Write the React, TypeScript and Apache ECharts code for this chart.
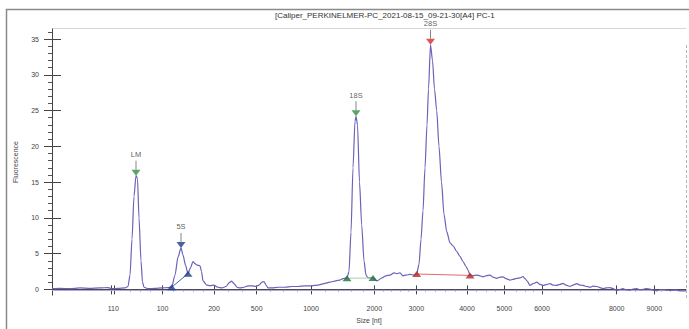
import React, { useEffect, useRef } from "react";
import * as echarts from "echarts";

// Migration position (arbitrary time units) and fluorescence
const traceTime = [
  20.0, 20.8, 21.8, 22.8, 23.8, 24.8, 25.6, 26.0, 26.6, 27.3, 27.6, 27.8, 28.0, 28.2, 28.4, 28.55, 28.7, 28.9, 29.05, 29.2,
  29.6, 30.3, 31.0, 31.6, 31.97, 32.3, 32.6, 32.9, 33.1, 33.35, 33.6, 33.85, 34.1, 34.3, 34.5, 34.8, 34.95, 35.1, 35.47, 35.8,
  36.2, 36.6, 37.0, 37.4, 37.7, 37.97, 38.2, 38.5, 38.8, 39.2, 39.6, 40.0, 40.4, 40.7, 41.0, 41.2, 41.4, 41.6, 42.0, 42.6,
  43.3, 44.0, 44.6, 45.3, 46.0, 46.6, 47.2, 47.8, 48.4, 48.8, 49.1, 49.5, 49.7, 49.9, 50.1, 50.3, 50.4, 50.55, 50.75, 50.97,
  51.2, 51.4, 51.6, 52.1, 52.5, 53.0, 53.4, 53.8, 54.2, 54.5, 54.8, 55.1, 55.4, 55.8, 56.2, 56.47, 56.7, 56.9, 57.1, 57.3,
  57.5, 57.65, 57.85, 58.05, 58.25, 58.47, 58.7, 58.95, 59.2, 59.47, 59.8, 60.1, 60.47, 60.8, 61.1, 61.4, 61.6, 61.8, 62.1, 62.47,
  62.8, 63.1, 63.4, 63.8, 64.1, 64.47, 64.8, 65.1, 65.4, 65.8, 66.1, 66.47, 66.8, 67.1, 67.3, 67.5, 67.8, 68.1, 68.47, 68.8,
  69.1, 69.5, 69.8, 70.1, 70.47, 70.8, 71.1, 71.4, 71.8, 72.1, 72.47, 72.8, 73.1, 73.5, 73.8, 74.1, 74.47, 74.8, 75.1, 75.4,
  75.8, 76.1, 76.47, 76.8, 77.1, 77.4, 77.8, 78.1, 78.47, 78.8, 79.1, 79.4, 79.8, 80.1, 80.47, 80.8, 81.1, 81.5, 81.8, 82.1,
  82.47, 82.8, 83.1, 83.4,
];
const traceFluor = [
  0.1, 0.15, 0.1, 0.2, 0.15, 0.2, 0.25, 0.1, 0.15, 0.2, 0.4, 2.0, 7.0, 13.0, 15.9, 15.5, 10.0, 4.0, 1.0, 0.3,
  0.1, 0.15, 0.2, 0.25, 0.3, 2.0, 4.5, 5.8, 4.8, 3.4, 2.2, 3.0, 3.9, 3.6, 3.4, 3.3, 2.5, 1.2, 0.6, 0.5,
  0.6, 0.3, 0.2, 0.4, 0.9, 1.15, 0.8, 0.3, 0.2, 0.3, 0.5, 0.5, 0.4, 0.6, 1.0, 1.1, 0.6, 0.2, 0.2, 0.3,
  0.3, 0.4, 0.4, 0.5, 0.5, 0.6, 0.8, 1.0, 1.2, 1.3, 1.5, 1.6, 2.5, 8.0, 17.0, 23.5, 24.2, 23.0, 15.0, 9.0,
  4.0, 2.0, 1.6, 1.6, 1.2, 1.6, 1.9, 2.0, 2.3, 2.2, 2.3, 1.9, 2.0, 2.1, 2.0, 2.15, 3.5, 7.0, 11.0, 17.0,
  23.0, 28.0, 34.2, 32.0, 28.0, 25.0, 20.0, 15.0, 10.5, 8.1, 6.5, 6.1, 5.3, 4.6, 3.9, 3.2, 2.7, 2.0, 1.9, 2.0,
  1.9, 1.75, 1.9, 2.0, 1.7, 1.55, 1.7, 1.75, 1.5, 1.3, 1.4, 1.55, 1.6, 1.8, 1.5, 1.2, 0.55, 0.8, 1.0, 0.7,
  0.55, 0.7, 0.8, 0.6, 0.55, 0.7, 0.85, 0.6, 0.4, 0.6, 0.8, 0.6, 0.55, 0.4, 0.3, 0.45, 0.4, 0.25, 0.1, 0.2,
  0.25, 0.1, -0.15, 0.0, 0.1, -0.05, -0.1, 0.05, 0.1, -0.05, 0.0, 0.1, 0.05, -0.1, -0.2, -0.05, -0.05, -0.1, -0.15, -0.1,
  -0.1, -0.2, -0.2, -0.2,
];

// Called peaks
const peakNames = ["LM", "5S", "18S", "28S"];
const peakTime = [28.4, 32.9, 50.4, 57.85];
const peakFluor = [15.9, 5.8, 24.2, 34.2];
const peakColors = ["#2f8f3f", "#1d3b8c", "#2f8f3f", "#d42b2b"];

// Peak start/end boundaries
const boundStartTime = [31.97, 49.5, 56.47];
const boundStartFluor = [0.3, 1.55, 2.15];
const boundEndTime = [33.6, 52.1, 61.8];
const boundEndFluor = [2.2, 1.6, 1.95];
const boundMarkerColors = ["#1d3b8c", "#1f6b3f", "#b52525"];
const boundLineColors = ["#4a5aa8", "#a8d49e", "#e36a6a"];

// Axis ticks
const xLabelTexts = ["110", "100", "200", "500", "1000", "2000", "3000", "4000", "5000", "6000", "8000", "9000"];
const xLabelPos = [26.13, 31.05, 36.2, 40.47, 45.9, 52.23, 56.43, 61.5, 65.23, 69.0, 76.47, 80.23];
const xMajorTickPos = [25.9, 26.23, 31.05, 36.2, 40.47, 45.9, 52.23, 56.43, 61.5, 65.23, 69.0, 76.47, 80.23];
const xMinorTickPos = [
  27.8, 28.8, 29.8, 32.1, 33.1, 34.1, 35.1, 37.6, 39.0, 41.8, 43.1, 44.5, 47.3, 48.63, 49.97, 51.13,
  53.1, 53.97, 54.8, 55.6, 57.3, 58.3, 59.3, 60.3, 62.47, 63.47, 64.3, 66.47, 67.3, 68.13,
  70.97, 72.8, 74.6, 78.3, 80.97, 81.8, 82.63,
];
const yMajorTicks = [0, 5, 10, 15, 20, 25, 30, 35];
const yMinorTicks = [1, 2, 3, 4, 6, 7, 8, 9, 11, 12, 13, 14, 16, 17, 18, 19, 21, 22, 23, 24, 26, 27, 28, 29, 31, 32, 33, 34, 36];

const FONT = "Liberation Sans, Arial, sans-serif";

export default function App() {
  const ref = useRef<HTMLDivElement>(null);
  useEffect(() => {
    if (!ref.current) return;
    const chart = echarts.init(ref.current, null, { renderer: "svg" });
    const xMin = 20;
    const xMax = 83.4;
    const baseX = {
      type: "value" as const,
      min: xMin,
      max: xMax,
      position: "bottom" as const,
      splitLine: { show: false },
    };
    const baseY = {
      type: "value" as const,
      min: -0.8,
      max: 36.4,
      position: "left" as const,
      splitLine: { show: false },
    };
    const option: any = {
      animation: false,
      backgroundColor: "#ffffff",
      textStyle: { fontFamily: FONT },
      title: {
        text: "[Caliper_PERKINELMER-PC_2021-08-15_09-21-30[A4] PC-1",
        left: 275,
        top: 11,
        padding: 0,
        textStyle: { fontSize: 8, fontWeight: "normal", color: "#333", fontFamily: FONT },
      },
      grid: { left: 52, right: 3, top: 29, bottom: 29 },
      xAxis: [
        {
          ...baseX,
          axisLine: { show: true, lineStyle: { color: "#444", width: 1 } },
          axisTick: { show: true, inside: true, length: 4, customValues: xMajorTickPos, lineStyle: { color: "#444" } },
          axisLabel: {
            show: true,
            customValues: xLabelPos,
            margin: 10,
            fontSize: 7,
            color: "#444",
            fontFamily: FONT,
            formatter: (v: number) => {
              let best = 0;
              for (let i = 1; i < xLabelPos.length; i++) {
                if (Math.abs(xLabelPos[i] - v) < Math.abs(xLabelPos[best] - v)) best = i;
              }
              return xLabelTexts[best];
            },
          },
          name: "Size [nt]",
          nameLocation: "middle",
          nameGap: 19,
          nameTextStyle: { fontSize: 7, color: "#444", fontFamily: FONT },
        },
        {
          ...baseX,
          axisLine: { show: false },
          axisTick: { show: true, inside: false, length: 5, customValues: xMajorTickPos, lineStyle: { color: "#444" } },
          axisLabel: { show: false },
        },
        {
          ...baseX,
          axisLine: { show: false },
          axisTick: { show: true, inside: false, length: 2, customValues: xMinorTickPos, lineStyle: { color: "#555" } },
          axisLabel: { show: false },
        },
      ],
      yAxis: [
        {
          ...baseY,
          axisLine: { show: true, lineStyle: { color: "#444", width: 1 } },
          axisTick: { show: true, inside: false, length: 8, customValues: yMajorTicks, lineStyle: { color: "#444" } },
          axisLabel: { show: true, customValues: yMajorTicks, margin: 13, fontSize: 7, color: "#444", fontFamily: FONT },
          name: "Fluorescence",
          nameLocation: "middle",
          nameRotate: 90,
          nameGap: 33,
          nameTextStyle: { fontSize: 7, color: "#444", fontFamily: FONT },
        },
        {
          ...baseY,
          axisLine: { show: false },
          axisTick: { show: true, inside: true, length: 9, customValues: yMajorTicks, lineStyle: { color: "#444" } },
          axisLabel: { show: false },
        },
        {
          ...baseY,
          axisLine: { show: false },
          axisTick: { show: true, inside: false, length: 4, customValues: yMinorTicks, lineStyle: { color: "#555" } },
          axisLabel: { show: false },
        },
      ],
      graphic: [
        {
          type: "polyline",
          shape: { points: [[6.5, 329], [6.5, 9.5], [689, 9.5]] },
          style: { stroke: "#8a8a8a", lineWidth: 1.5, fill: "none" },
          silent: true,
        },
        {
          type: "line",
          shape: { x1: 52, y1: 28.5, x2: 686, y2: 28.5 },
          style: { stroke: "#d6d6d6", lineWidth: 1 },
          silent: true,
        },
        {
          type: "line",
          shape: { x1: 686.5, y1: 45, x2: 686.5, y2: 298 },
          style: { stroke: "#b4b4b4", lineWidth: 1, lineDash: [3, 2] },
          silent: true,
        },
      ],
      series: [
        {
          type: "line",
          name: "baseline",
          data: [[xMin, -0.15], [xMax, -0.15]],
          showSymbol: false,
          symbol: "none",
          lineStyle: { color: "#aaa4dc", width: 1 },
          z: 1,
        },
        {
          type: "line",
          name: "trace",
          data: traceTime.map((t, i) => [t, traceFluor[i]]),
          showSymbol: false,
          symbol: "none",
          smooth: 0.25,
          smoothMonotone: "x",
          lineStyle: { color: "#6a62b6", width: 1.2 },
          z: 2,
        },
        ...boundStartTime.map((t, i) => ({
          type: "line",
          name: "bound" + i,
          data: [[t, boundStartFluor[i]], [boundEndTime[i], boundEndFluor[i]]],
          showSymbol: false,
          symbol: "none",
          lineStyle: { color: boundLineColors[i], width: 1 },
          z: 3,
        })),
        {
          type: "scatter",
          name: "bounds",
          symbol: "triangle",
          symbolSize: [9, 6],
          z: 5,
          data: [
            ...boundStartTime.map((t, i) => ({ value: [t, boundStartFluor[i]], itemStyle: { color: boundMarkerColors[i] } })),
            ...boundEndTime.map((t, i) => ({ value: [t, boundEndFluor[i]], itemStyle: { color: boundMarkerColors[i] } })),
          ],
        },
        {
          type: "scatter",
          name: "peaks",
          symbol: "triangle",
          symbolRotate: 180,
          symbolSize: [9, 6],
          symbolOffset: [0, -3],
          z: 6,
          data: peakTime.map((t, i) => ({ value: [t, peakFluor[i]], itemStyle: { color: peakColors[i] } })),
        },
        {
          type: "scatter",
          name: "stems",
          symbol: "rect",
          symbolSize: [1, 9],
          symbolOffset: [0, -10.5],
          z: 6,
          itemStyle: { color: "#666" },
          label: {
            show: true,
            position: "top",
            distance: 2,
            fontSize: 7.5,
            color: "#333",
            fontFamily: FONT,
            formatter: (p: any) => peakNames[p.dataIndex],
          },
          data: peakTime.map((t, i) => [t, peakFluor[i]]),
        },
      ],
    };
    chart.setOption(option);
    return () => chart.dispose();
  }, []);
  return (
    <div
      ref={ref}
      style={{ position: "fixed", left: 0, top: 0, width: 689, height: 329, background: "#fff" }}
    />
  );
}
